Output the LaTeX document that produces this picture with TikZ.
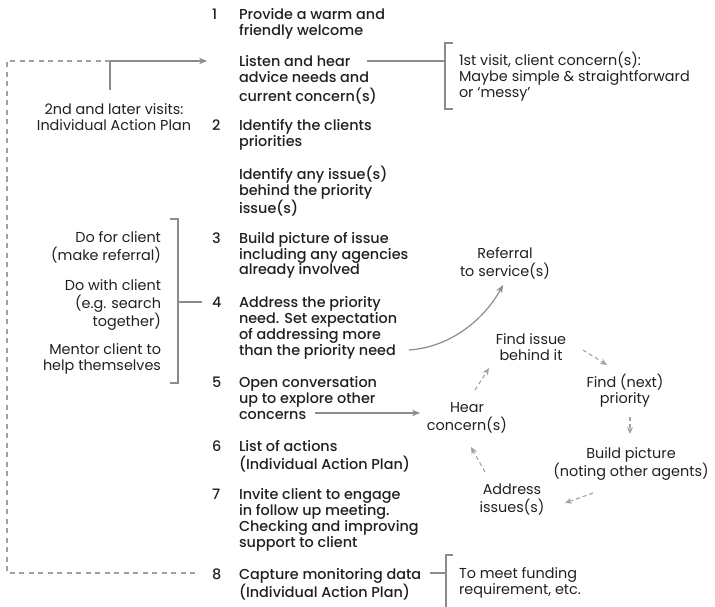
\documentclass[tikz,border=0pt]{standalone}
\usepackage{fontspec}
\setmainfont{Poppins}[BoldFont={Poppins Medium}]
\usetikzlibrary{arrows.meta}
\definecolor{txt}{HTML}{231F20}
\definecolor{ln}{HTML}{8C8C8C}
\definecolor{dl}{HTML}{A0A0A0}
\newcommand\Lset[2]{\begin{tabular}[t]{@{}#1@{}}#2\end{tabular}}
\begin{document}
\begin{tikzpicture}[x=1pt,y=-1pt,
  every node/.style={inner sep=0pt, outer sep=0pt, text=txt, font=\fontsize{14.4}{16}\selectfont},
  stepnum/.style={anchor=base west, font=\fontsize{14.4}{16}\selectfont\bfseries},
  steptext/.style={anchor=base west, font=\fontsize{14.4}{16}\selectfont\bfseries},
  note/.style={font=\fontsize{14.4}{16}\selectfont},
  solidline/.style={draw=ln, line width=1.2pt},
  dashline/.style={draw=dl, line width=1.1pt, dash pattern=on 5pt off 4.5pt},
  cyc/.style={draw=dl, line width=1.1pt, dash pattern=on 4pt off 3pt, -{Stealth[length=7pt,width=6pt]}},
  arr/.style={solidline, -{Stealth[length=8pt,width=6.5pt]}},
]
\useasboundingbox (0,0) rectangle (715,607);
% steps
\node[stepnum] (n1) at (212,20) {1};
\node[steptext] (s1) at (239,20) {\Lset{l}{Provide a warm and\\friendly welcome}};
\node[steptext] (s1b) at (239,67) {\Lset{l}{Listen and hear\\advice needs and\\current concern(s)}};
\node[stepnum] (n2) at (212,131) {2};
\node[steptext] (s2) at (239,131) {\Lset{l}{Identify the clients\\priorities}};
\node[steptext] (s2b) at (239,179) {\Lset{l}{Identify any issue(s)\\behind the priority\\issue(s)}};
\node[stepnum] (n3) at (212,243) {3};
\node[steptext] (s3) at (239,243) {\Lset{l}{Build picture of issue\\including any agencies\\already involved}};
\node[stepnum] (n4) at (212,307) {4};
\node[steptext] (s4) at (239,307) {\Lset{l}{Address the priority\\need. Set expectation\\of addressing more\\than the priority need}};
\node[stepnum] (n5) at (212,387) {5};
\node[steptext] (s5) at (239,387) {\Lset{l}{Open conversation\\up to explore other\\concerns}};
\node[stepnum] (n6) at (212,451) {6};
\node[steptext] (s6) at (239,451) {\Lset{l}{List of actions\\(Individual Action Plan)}};
\node[stepnum] (n7) at (212,499) {7};
\node[steptext] (s7) at (239,499) {\Lset{l}{Invite client to engage\\in follow up meeting.\\Checking and improving\\support to client}};
\node[stepnum] (n8) at (212,579) {8};
\node[steptext] (s8) at (239,579) {\Lset{l}{Capture monitoring data\\(Individual Action Plan)}};
% notes
\node[note, anchor=base] (later) at (114,115) {\Lset{c}{2nd and later visits:\\Individual Action Plan}};
\node[note, anchor=base west] (first) at (459,66) {\Lset{l}{1st visit, client concern(s):\\Maybe simple \& straightforward\\or ‘messy’}};
\node[note, anchor=base east] (dofor) at (161,242) {\Lset{r}{Do for client\\(make referral)}};
\node[note, anchor=base east] (dowith) at (161,290) {\Lset{r}{Do with client\\(e.g. search\\together)}};
\node[note, anchor=base east] (mentor) at (161,354) {\Lset{r}{Mentor client to\\help themselves}};
\node[note, anchor=base] (referral) at (505,258) {\Lset{c}{Referral\\to service(s)}};
\node[note, anchor=base] (hear) at (467,412) {\Lset{c}{Hear\\concern(s)}};
\node[note, anchor=base] (findissue) at (531,344) {\Lset{c}{Find issue\\behind it}};
\node[note, anchor=base] (findnext) at (625,387) {\Lset{c}{Find (next)\\priority}};
\node[note, anchor=base] (build) at (631,458) {\Lset{c}{Build picture\\(noting other agents)}};
\node[note, anchor=base] (address) at (512,494) {\Lset{c}{Address\\issues(s)}};
\node[note, anchor=base west] (funding) at (459,578) {\Lset{l}{To meet funding\\requirement, etc.}};
% return path
\coordinate (r0) at (110,90);
\coordinate (r1) at (110,61);
\coordinate (r2) at (207,61);
\coordinate (d0) at (7,61);
\coordinate (d1) at (7,573);
\coordinate (d2) at (199,573);
\draw[arr] (r0) -- (r1) -- (r2);
\draw[dashline] (r1) -- (d0) -- (d1) -- (d2);
% first-visit bracket
\coordinate (b1s) at (367,61);
\coordinate (b1m) at (445,61);
\draw[solidline] (b1s) -- (b1m);
\draw[solidline] (453,43) -- (445,43) -- (445,109) -- (453,109);
% left bracket
\coordinate (b2m) at (178,302);
\coordinate (b2e) at (202,302);
\draw[solidline] (170,219) -- (178,219) -- (178,383) -- (170,383);
\draw[solidline] (b2m) -- (b2e);
% bottom bracket
\coordinate (b3s) at (430,573);
\coordinate (b3m) at (446,573);
\draw[solidline] (b3s) -- (b3m);
\draw[solidline] (453,555) -- (446,555) -- (446,612);
% referral curve
\coordinate (c0) at (409,350);
\coordinate (c1) at (503,285);
\draw[arr] (c0) .. controls (452,347) and (485,318) .. (c1);
% concerns arrow
\coordinate (h0) at (315,413);
\coordinate (h1) at (420,413);
\draw[arr] (h0) -- (h1);
% cycle
\coordinate (y1a) at (475,390); \coordinate (y1b) at (489,368);
\coordinate (y2a) at (583,350); \coordinate (y2b) at (607,365);
\coordinate (y3a) at (630,417); \coordinate (y3b) at (630,434);
\coordinate (y4a) at (593,493); \coordinate (y4b) at (565,503);
\coordinate (y5a) at (485,472); \coordinate (y5b) at (471,447);
\draw[cyc] (y1a) -- (y1b);
\draw[cyc] (y2a) -- (y2b);
\draw[cyc] (y3a) -- (y3b);
\draw[cyc] (y4a) -- (y4b);
\draw[cyc] (y5a) -- (y5b);
\end{tikzpicture}
\end{document}
